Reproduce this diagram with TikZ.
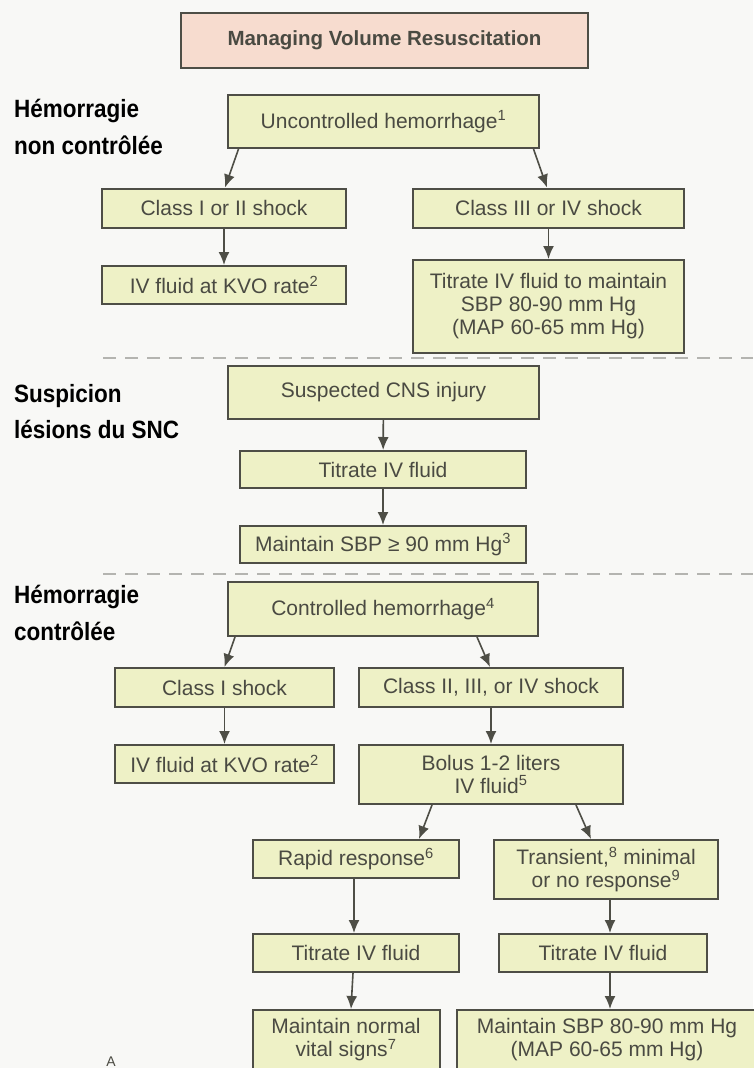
\documentclass[tikz,border=0pt]{standalone}
\usepackage{fontspec}
\setmainfont{Liberation Sans}
\usetikzlibrary{arrows.meta}
\definecolor{pagebg}{HTML}{F8F8F6}
\definecolor{boxfill}{HTML}{EEF1C6}
\definecolor{titlefill}{HTML}{F7DCCF}
\definecolor{boxline}{HTML}{4E4E46}
\definecolor{txt}{HTML}{4A4A42}
\definecolor{dashgray}{HTML}{B4B4B0}
\begin{document}
\begin{tikzpicture}[x=1pt,y=-1pt,
  flowbox/.style={draw=boxline, fill=boxfill, line width=2pt, text=txt,
    align=center, inner sep=0pt, font=\fontsize{21}{23}\selectfont},
  titlebox/.style={flowbox, fill=titlefill, font=\bfseries\fontsize{20.5}{23}\selectfont},
  sidelabel/.style={anchor=base west, inner sep=0pt, text=black,
    font=\bfseries\fontsize{25}{30}\selectfont, xscale=0.9},
  flow/.style={draw=boxline, line width=1.6pt, -{Latex[width=11pt,length=13pt]}},
  divider/.style={draw=dashgray, line width=2.5pt, dash pattern=on 13pt off 9pt}]

\useasboundingbox (0,0) rectangle (753,1068);
\fill[pagebg] (0,0) rectangle (753,1068);

% title
\node[titlebox, minimum width=407pt, minimum height=55pt] (title) at (384.5,40.5)
  {Managing Volume Resuscitation};

% section labels
\node[sidelabel] (labA1) at (14,117) {Hémorragie};
\node[sidelabel] (labA2) at (14,154) {non contrôlée};
\node[sidelabel] (labB1) at (14,402) {Suspicion};
\node[sidelabel] (labB2) at (14,438) {lésions du SNC};
\node[sidelabel] (labC1) at (14,603) {Hémorragie};
\node[sidelabel] (labC2) at (14,640) {contrôlée};

% section dividers
\coordinate (d1l) at (103,358);
\coordinate (d1r) at (753,358);
\coordinate (d2l) at (103,574);
\coordinate (d2r) at (753,574);
\draw[divider] (d1l) -- (d1r);
\draw[divider] (d2l) -- (d2r);

% uncontrolled hemorrhage
\node[flowbox, minimum width=311pt, minimum height=53pt] (unc) at (383.5,121.5)
  {Uncontrolled hemorrhage\textsuperscript{1}};
\node[flowbox, minimum width=244pt, minimum height=39pt] (c12) at (224,208)
  {Class I or II shock};
\node[flowbox, minimum width=271pt, minimum height=39pt] (c34) at (548.5,208)
  {Class III or IV shock};
\node[flowbox, minimum width=244pt, minimum height=38pt] (kvoA) at (224,285)
  {IV fluid at KVO rate\textsuperscript{2}};
\node[flowbox, minimum width=271pt, minimum height=93pt] (titA) at (548.5,306.5)
  {Titrate IV fluid to maintain\\SBP 80-90 mm Hg\\(MAP 60-65 mm Hg)};

% suspected CNS injury
\node[flowbox, minimum width=311pt, minimum height=53pt] (cns) at (383.5,392.5)
  {Suspected CNS injury};
\node[flowbox, minimum width=286pt, minimum height=37pt] (titB) at (383,469.5)
  {Titrate IV fluid};
\node[flowbox, minimum width=286pt, minimum height=37pt] (sbp) at (383,544.5)
  {Maintain SBP ≥ 90 mm Hg\textsuperscript{3}};

% controlled hemorrhage
\node[flowbox, minimum width=310pt, minimum height=54pt] (ctrl) at (383,609)
  {Controlled hemorrhage\textsuperscript{4}};
\node[flowbox, minimum width=219pt, minimum height=39pt] (c1) at (224.5,687.5)
  {Class I shock};
\node[flowbox, minimum width=264pt, minimum height=39pt] (c234) at (491,687.5)
  {Class II, III, or IV shock};
\node[flowbox, minimum width=219pt, minimum height=38pt] (kvoB) at (224.5,764)
  {IV fluid at KVO rate\textsuperscript{2}};
\node[flowbox, minimum width=264pt, minimum height=59pt] (bolus) at (491,774.5)
  {Bolus 1-2 liters\\IV fluid\textsuperscript{5}};
\node[flowbox, minimum width=206pt, minimum height=38pt] (rapid) at (356,859)
  {Rapid response\textsuperscript{6}};
\node[flowbox, minimum width=224pt, minimum height=59pt] (trans) at (606,869.5)
  {Transient,\textsuperscript{8} minimal\\or no response\textsuperscript{9}};
\node[flowbox, minimum width=206pt, minimum height=38pt] (titC) at (356,953)
  {Titrate IV fluid};
\node[flowbox, minimum width=208pt, minimum height=38pt] (titD) at (603,953)
  {Titrate IV fluid};
\node[flowbox, minimum width=187pt, minimum height=60pt] (norm) at (346,1040)
  {Maintain normal\\vital signs\textsuperscript{7}};
\node[flowbox, minimum width=300pt, minimum height=60pt] (msbp) at (607,1040)
  {Maintain SBP 80-90 mm Hg\\(MAP 60-65 mm Hg)};

% panel letter
\node[inner sep=0pt, text=txt, font=\fontsize{14}{16}\selectfont, anchor=base] (panel) at (111,1066) {A};

% connectors
\draw[flow] ([xshift=-145pt]unc.south) -- ([xshift=1pt]c12.north);
\draw[flow] ([xshift=150pt]unc.south) -- ([xshift=-1.5pt]c34.north);
\draw[flow] (c12) -- (kvoA);
\draw[flow] (c34) -- (titA);
\draw[flow] (cns) -- (titB);
\draw[flow] (titB) -- (sbp);
\draw[flow] ([xshift=-148pt]ctrl.south) -- (c1.north);
\draw[flow] ([xshift=94pt]ctrl.south) -- ([xshift=-1pt]c234.north);
\draw[flow] (c1) -- (kvoB);
\draw[flow] (c234) -- (bolus);
\draw[flow] ([xshift=-59pt]bolus.south) -- ([xshift=63pt]rapid.north);
\draw[flow] ([xshift=85pt]bolus.south) -- ([xshift=-15pt]trans.north);
\draw[flow] ([xshift=-2pt]rapid.south) -- ([xshift=-2pt]titC.north);
\draw[flow] ([xshift=4pt]trans.south) -- ([xshift=7pt]titD.north);
\draw[flow] ([xshift=-3pt]titC.south) -- ([xshift=5pt]norm.north);
\draw[flow] ([xshift=7pt]titD.south) -- ([xshift=3pt]msbp.north);
\end{tikzpicture}
\end{document}
